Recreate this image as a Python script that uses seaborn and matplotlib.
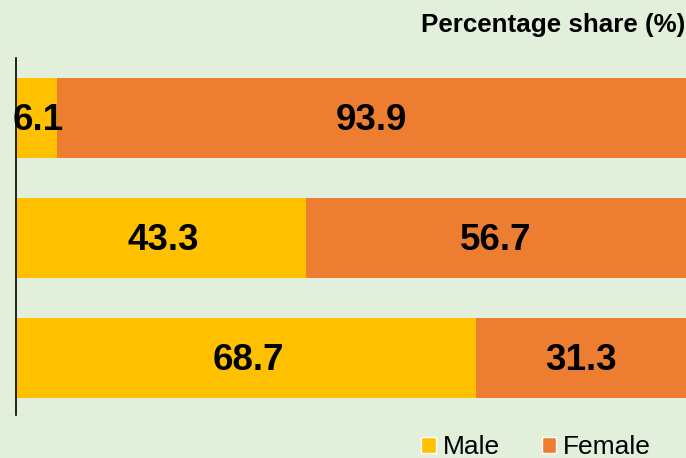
import pandas as pd
import matplotlib.pyplot as plt
import seaborn as sns
from matplotlib.patches import Patch

# values (top bar first)
groups = ['Group 1', 'Group 2', 'Group 3']
male = [6.1, 43.3, 68.7]
female = [93.9, 56.7, 31.3]

bg = '#E2EFDA'
male_col = '#FFC000'
female_col = '#ED7D31'

sns.set_theme(style='white')
plt.rcParams['font.family'] = ['Liberation Sans', 'DejaVu Sans']

df = pd.DataFrame({'Group': groups, 'Male': male, 'Female': female})
df['Total'] = df['Male'] + df['Female']

fig = plt.figure(figsize=(6.86, 4.58), dpi=100, facecolor=bg)
ax = fig.add_axes([16 / 686, 43 / 458, 670 / 686, 357 / 458])
ax.set_facecolor(bg)

# stacked: full bar in orange, male part drawn on top
sns.barplot(data=df, x='Total', y='Group', color=female_col, width=0.667,
            saturation=1, ax=ax, orient='h', linewidth=0, edgecolor='none')
sns.barplot(data=df, x='Male', y='Group', color=male_col, width=0.667,
            saturation=1, ax=ax, orient='h', linewidth=0, edgecolor='none')

for i, row in df.iterrows():
    ax.text(row['Male'] / 2 + 0.3, i + 0.02, f"{row['Male']:.1f}", ha='center', va='center',
            fontsize=26.5, fontweight='bold', color='black')
    ax.text(row['Male'] + row['Female'] / 2, i + 0.02, f"{row['Female']:.1f}",
            ha='center', va='center', fontsize=26.5, fontweight='bold', color='black')

ax.set_xlim(0, 100)
ax.set_ylim(2.475, -0.5)
ax.set_xticks([])
ax.set_yticks([])
ax.set_xlabel('')
ax.set_ylabel('')
for s in ['top', 'right', 'bottom']:
    ax.spines[s].set_visible(False)
ax.spines['left'].set_color('black')
ax.spines['left'].set_linewidth(1.2)

fig.text(685 / 686, 1 - 25 / 458, 'Percentage share (%)', ha='right', va='center',
         fontsize=18.7, fontweight='bold', color='black')

handles = [Patch(facecolor=male_col, label='Male'), Patch(facecolor=female_col, label='Female')]
fig.legend(handles=handles, loc='center', bbox_to_anchor=(536 / 686, 1 - 447 / 458),
           ncol=2, frameon=False, fontsize=19, handlelength=0.55, handleheight=0.55,
           handletextpad=0.25, columnspacing=1.6, borderpad=0, labelcolor='black')

fig.savefig('out.png', dpi=100, facecolor=bg)
